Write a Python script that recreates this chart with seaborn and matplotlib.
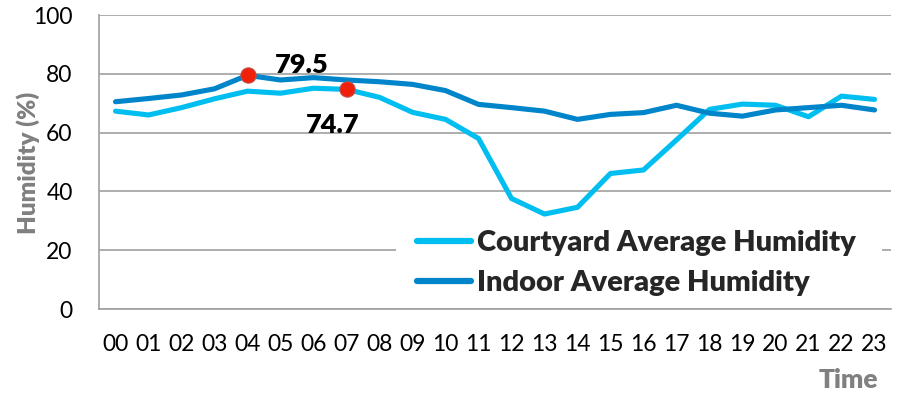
import matplotlib
matplotlib.use("Agg")
import matplotlib.pyplot as plt
from matplotlib.patches import Rectangle
import seaborn as sns
import pandas as pd

hours = ["00", "01", "02", "03", "04", "05", "06", "07", "08", "09", "10", "11",
         "12", "13", "14", "15", "16", "17", "18", "19", "20", "21", "22", "23"]
courtyard = [67.3, 66.0, 68.5, 71.5, 74.1, 73.4, 75.1, 74.7, 72.0, 66.9, 64.5, 58.0,
             37.6, 32.3, 34.6, 46.1, 47.3, 57.5, 67.9, 69.7, 69.3, 65.4, 72.4, 71.3]
indoor = [70.5, 71.6, 72.8, 74.9, 79.5, 77.9, 78.7, 77.9, 77.3, 76.4, 74.3, 69.6,
          68.5, 67.3, 64.5, 66.2, 66.8, 69.3, 66.6, 65.6, 67.7, 68.5, 69.3, 67.7]
series_names = ["Courtyard Average Humidity", "Indoor Average Humidity"]
colors = ["#00BFF0", "#0085CA"]
# highlighted points: (series index, hour index)
highlights = [(1, 4), (0, 7)]

sns.set_theme(style="white")
plt.rcParams["font.family"] = ["Lato", "DejaVu Sans"]
BOLD = "heavy"

df = pd.DataFrame({
    "Time": list(range(len(hours))) * 2,
    "Humidity": courtyard + indoor,
    "Series": [series_names[0]] * len(hours) + [series_names[1]] * len(hours),
})

fig = plt.figure(figsize=(8.97, 3.95), dpi=100)
ax = fig.add_axes([0.1104, 0.2177, 0.8829, 0.7443])

sns.lineplot(data=df, x="Time", y="Humidity", hue="Series", palette=colors,
             linewidth=3.7, ax=ax, legend=True)

values = [courtyard, indoor]
for si, hi in highlights:
    v = values[si][hi]
    ax.plot(hi, v, "o", color="#F0200A", markersize=11, markeredgecolor="#C0504D",
            markeredgewidth=0.8, zorder=5)
ax.annotate(f"{indoor[4]}", xy=(4, indoor[4]), xytext=(20, 2), textcoords="offset points",
            fontsize=19.5, fontweight=BOLD, color="black", ha="left", va="baseline")
ax.annotate(f"{courtyard[7]}", xy=(7, courtyard[7]), xytext=(-29, -17), textcoords="offset points",
            fontsize=19.5, fontweight=BOLD, color="black", ha="left", va="top")

ax.set_xlim(-0.5, len(hours) - 0.5)
ax.set_ylim(0, 100)
ax.set_yticks(range(0, 101, 20))
ax.set_xticks(range(len(hours)))
ax.set_xticklabels(hours)
ax.set_xticks([i - 0.5 for i in range(len(hours) + 1)], minor=True)
ax.tick_params(axis="x", which="major", length=0, pad=18, labelsize=16.5, labelcolor="black")
ax.tick_params(axis="x", which="minor", length=8, width=1.2, color="#A0A0A0", direction="out")
ax.tick_params(axis="y", which="major", length=8, width=1.2, color="#A0A0A0", labelsize=16.5,
               labelcolor="black", pad=11)

ax.grid(axis="y", color="#A0A0A0", linewidth=1.2)
ax.set_axisbelow(True)
for s in ["top", "right"]:
    ax.spines[s].set_visible(False)
for s in ["left", "bottom"]:
    ax.spines[s].set_color("#A0A0A0")
    ax.spines[s].set_linewidth(1.2)

ax.set_ylabel("")
ax.set_xlabel("")
fig.text(0.031, 1 - 163 / 395, "Humidity (%)", fontsize=17.5, fontweight=BOLD, color="#808080",
         rotation=90, ha="center", va="center")
fig.text(0.946, 1 - 380 / 395, "Time", fontsize=19, fontweight=BOLD, color="#808080",
         ha="center", va="center")

# white legend panel that masks the gridline behind it
ax.add_patch(Rectangle((0.375, 0.03), 0.6136, 0.258, transform=ax.transAxes,
                       facecolor="white", edgecolor="none", zorder=1))

leg = ax.legend(loc="center left", bbox_to_anchor=(0.402, 0.156), frameon=False, fontsize=21,
                handlelength=1.85, handletextpad=0.2, labelspacing=0.5, borderpad=0,
                borderaxespad=0)
for t in leg.get_texts():
    t.set_fontweight(BOLD)
for line in leg.get_lines():
    line.set_linewidth(4.5)
    line.set_solid_capstyle("round")

fig.savefig("out.png", dpi=100)
